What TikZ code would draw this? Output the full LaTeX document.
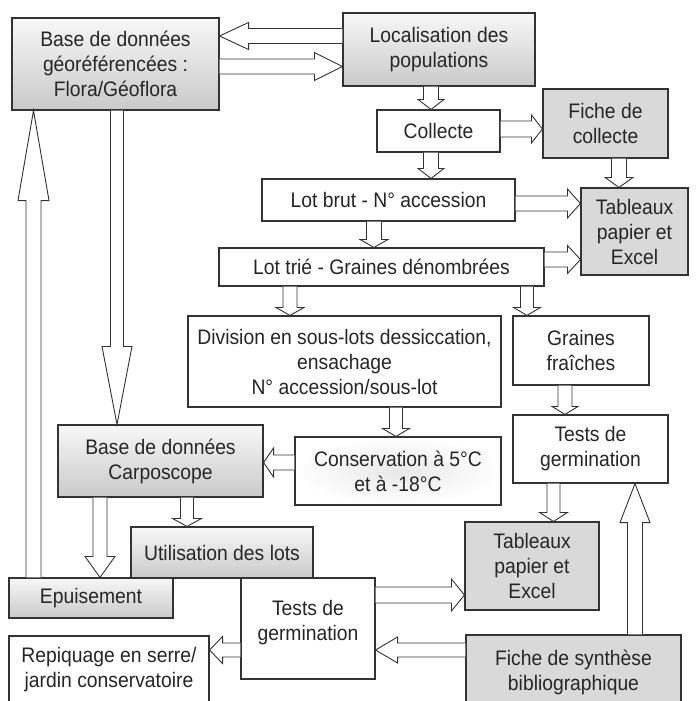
\documentclass[tikz,border=0pt]{standalone}
\usepackage{fontspec}
\setmainfont[FakeStretch=0.92]{Liberation Sans}
\usetikzlibrary{calc}

\tikzset{
  box/.style={draw=black!80, line width=1.1pt, align=center, inner sep=0pt,
              text=black!85, font=\fontsize{21}{25}\selectfont},
  plain/.style={box, fill=white},
  grey/.style={box, fill=gray!30},
  shaded/.style={box, top color=gray!6, bottom color=gray!42},
  glow/.style={box, inner color=gray!18, outer color=white},
  sz/.style 2 args={minimum width=#1pt, minimum height=#2pt},
  blk/.style={draw=black!80, line width=0.9pt, fill=white, line join=miter},
}

% Hollow block arrow: #1 tail, #2 tip, #3 shaft half width,
% #4 head half width, #5 head length (all in pt)
\newcommand\flowarrow[5]{%
  \coordinate (ba) at (#1);
  \coordinate (bb) at (#2);
  \coordinate (bc) at ($(bb)!#5pt!(ba)$);
  \draw[blk] ($(ba)!#3pt!90:(bb)$) -- ($(bc)!#3pt!90:(bb)$)
    -- ($(bc)!#4pt!90:(bb)$) -- (bb) -- ($(bc)!#4pt!-90:(bb)$)
    -- ($(bc)!#3pt!-90:(bb)$) -- ($(ba)!#3pt!-90:(bb)$);
}

\begin{document}
\begin{tikzpicture}[x=1pt, y=-1pt]
\useasboundingbox (0,0) rectangle (698,701);
\fill[white] (0,0) rectangle (698,701);

% boxes
\node[shaded, sz={207}{92}] (flora) at (115.5,64) {Base de données\\géoréférencées :\\Flora/Géoflora};
\node[shaded, sz={192}{73}] (loc) at (439,49.5) {Localisation des\\populations};
\node[plain, sz={123}{42}] (coll) at (438.5,131) {Collecte};
\node[grey, sz={125}{69}] (fiche) at (605.5,123.5) {Fiche de\\collecte};
\node[plain, sz={253}{42}] (lotbrut) at (388.5,200) {Lot brut - N° accession};
\node[grey, sz={107}{87}] (tab1) at (634.5,231.5) {Tableaux\\papier et\\Excel};
\node[plain, sz={325}{38}] (lottrie) at (381.5,267) {Lot trié - Graines dénombrées};
\node[plain, sz={313}{91}] (div) at (344.5,361.5) {Division en sous-lots dessiccation,\\ensachage\\N° accession/sous-lot};
\node[plain, sz={136}{69}] (grain) at (581,350.5) {Graines\\fraîches};
\node[plain, sz={155}{68}] (testR) at (590.5,449) {Tests de\\germination};
\node[glow, sz={206}{68}] (cons) at (398,471) {Conservation à 5°C\\et à -18°C};
\node[shaded, sz={205}{72}] (carpo) at (160.5,461) {Base de données\\Carposcope};
\node[shaded, sz={182}{51}] (util) at (222,552.5) {Utilisation des lots};
\node[shaded, sz={164}{40}] (epuis) at (91,598) {Epuisement};
\node[plain, sz={134}{101}] (testL) at (308,628.5) {};
\node (testLtext) at (308,623) [box, draw=none, align=center] {Tests de\\germination};
\node[plain, sz={200}{68}] (repiq) at (109,670) {Repiquage en serre/\\jardin conservatoire};
\node[grey, sz={134}{88}] (tab2) at (532,566) {Tableaux\\papier et\\Excel};
\node[grey, sz={215}{74}] (synth) at (573.5,672) {Fiche de synthèse\\bibliographique};

% connectors
\flowarrow{loc.west |- 0,36}{flora.east |- 0,36}{7.5}{13.5}{29}
\flowarrow{flora.east |- 0,66.5}{loc.west |- 0,66.5}{7.5}{14}{28}
\flowarrow{loc.south -| 431,0}{coll.north -| 431,0}{7.5}{13}{10}
\flowarrow{coll.east |- 0,129}{fiche.west |- 0,129}{8}{14}{11}
\flowarrow{coll.south -| 431,0}{lotbrut.north -| 431,0}{7.5}{13}{10}
\flowarrow{fiche.south -| 619,0}{tab1.north -| 619,0}{7.5}{14}{10}
\flowarrow{lotbrut.east |- 0,203.5}{tab1.west |- 0,203.5}{7.5}{14.5}{13}
\flowarrow{lotbrut.south -| 374,0}{lottrie.north -| 374,0}{7.5}{14}{8}
\flowarrow{lottrie.east |- 0,259.5}{tab1.west |- 0,259.5}{7.5}{14}{13}
\flowarrow{lottrie.south -| 290,0}{div.north -| 290,0}{7}{14}{8}
\flowarrow{lottrie.south -| 527,0}{grain.north -| 527,0}{6.5}{13.5}{8}
\flowarrow{grain.south -| 565,0}{testR.north -| 565,0}{7}{13}{8}
\flowarrow{div.south -| 396,0}{cons.north -| 396,0}{6.5}{13.5}{8}
\flowarrow{cons.west |- 0,462.5}{carpo.east |- 0,462.5}{7.5}{14.5}{10}
\flowarrow{flora.south -| 117,0}{carpo.north -| 117,0}{6.5}{15}{78}
\flowarrow{epuis.north -| 33.5,0}{flora.south -| 33.5,0}{7.5}{15.5}{90}
\flowarrow{carpo.south -| 100,0}{epuis.north -| 100,0}{7}{15}{21}
\flowarrow{carpo.south -| 187,0}{util.north -| 187,0}{6.5}{14.5}{8}
\flowarrow{testL.west |- 0,650}{repiq.east |- 0,650}{7}{13.5}{13}
\flowarrow{testR.south -| 553.5,0}{tab2.north -| 553.5,0}{6.5}{14}{9}
\flowarrow{testL.east |- 0,595}{tab2.west |- 0,595}{8}{16}{13}
\flowarrow{synth.west |- 0,650}{testL.east |- 0,650}{7}{13}{22}
\flowarrow{synth.north -| 635,0}{testR.south -| 635,0}{7.5}{15}{39}
\end{tikzpicture}
\end{document}
